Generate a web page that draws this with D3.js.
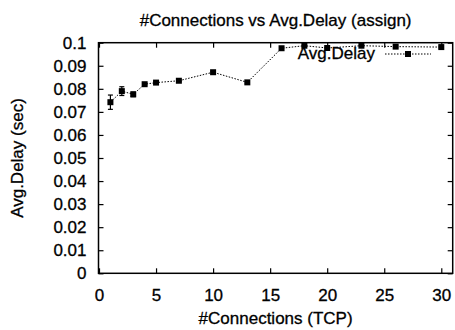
<!DOCTYPE html>
<html>
<head>
<meta charset="utf-8">
<script src="https://cdn.jsdelivr.net/npm/d3@7"></script>
<style>
  html, body { margin: 0; padding: 0; background: #fff; }
  svg { display: block; }
  text { font-family: "Liberation Sans", Arial, Helvetica, sans-serif; fill: #000; stroke: #000; stroke-width: 0.3px; }
</style>
</head>
<body>
<svg id="chart" width="455" height="330"></svg>
<script>
// Number of TCP connections and the measured average delay (seconds)
const connections = [1, 2, 3, 4, 5, 7, 10, 13, 16, 18, 20, 23, 26, 30];
const avgDelay = [0.0742, 0.0790, 0.0776, 0.0820, 0.0827, 0.0835, 0.0872, 0.0828, 0.0976, 0.0987, 0.0977, 0.0987, 0.0983, 0.0981];
const delayErr = [0.0031, 0.0019, 0.0010, 0.0005, 0.0004, 0.0003, 0.0004, 0.0004, 0.0003, 0.0003, 0.0003, 0.0004, 0.0003, 0.0006];
const xTicks = [0, 5, 10, 15, 20, 25, 30];
const yTicks = [0, 0.01, 0.02, 0.03, 0.04, 0.05, 0.06, 0.07, 0.08, 0.09, 0.1];
const seriesName = "Avg.Delay";

const svg = d3.select("#chart");
const L = 98.5, R = 452.7, T = 42.7, B = 273.3;

const x = d3.scaleLinear().domain([0, 31]).range([99, R]);
const y = d3.scaleLinear().domain([0, 0.1]).range([B, T]);

const font = "17px";
const tickLen = 5;

// Title
svg.append("text")
  .attr("x", (L + R) / 2).attr("y", 25.5)
  .attr("text-anchor", "middle").style("font-size", font)
  .text("#Connections vs Avg.Delay (assign)");

// Axis titles
svg.append("text")
  .attr("x", (L + R) / 2).attr("y", 324)
  .attr("text-anchor", "middle").style("font-size", font)
  .text("#Connections (TCP)");
svg.append("text")
  .attr("transform", `translate(23,${(T + B) / 2}) rotate(-90)`)
  .attr("text-anchor", "middle").style("font-size", font)
  .text("Avg.Delay (sec)");

// Bottom axis: labels plus inward ticks, mirrored on the top edge
const gx = svg.append("g").attr("transform", `translate(0,${B})`)
  .call(d3.axisBottom(x).tickValues(xTicks).tickFormat(d3.format("d")).tickSize(-tickLen).tickPadding(10));
gx.select(".domain").remove();
gx.selectAll("text").style("font-size", font).attr("font-family", null).attr("y", 16);
gx.selectAll("line").attr("stroke-width", 1.2);

const gxTop = svg.append("g").attr("transform", `translate(0,${T})`)
  .call(d3.axisTop(x).tickValues(xTicks).tickFormat("").tickSize(-tickLen));
gxTop.select(".domain").remove();
gxTop.selectAll("line").attr("stroke-width", 1.2);

// Left axis with labels, mirrored ticks on the right edge
const gy = svg.append("g").attr("transform", `translate(${L},0)`)
  .call(d3.axisLeft(y).tickValues(yTicks).tickFormat(d => d === 0 ? "0" : d3.format(".2~f")(d)).tickSize(-tickLen).tickPadding(12));
gy.select(".domain").remove();
gy.selectAll("text").style("font-size", font).attr("font-family", null);
gy.selectAll("line").attr("stroke-width", 1.2);

const gyRight = svg.append("g").attr("transform", `translate(${R},0)`)
  .call(d3.axisRight(y).tickValues(yTicks).tickFormat("").tickSize(-tickLen));
gyRight.select(".domain").remove();
gyRight.selectAll("line").attr("stroke-width", 1.2);

// Plot frame
svg.append("rect")
  .attr("x", L).attr("y", T).attr("width", R - L).attr("height", B - T)
  .attr("fill", "none").attr("stroke", "#000").attr("stroke-width", 1.5);

const data = connections.map((c, i) => ({ c, d: avgDelay[i], e: delayErr[i] }));

// Dotted connecting line
svg.append("path")
  .datum(data)
  .attr("fill", "none").attr("stroke", "#000").attr("stroke-width", 1)
  .attr("stroke-dasharray", "1.5,1.5")
  .attr("d", d3.line().x(p => x(p.c)).y(p => y(p.d)));

// Error bars
const eb = svg.append("g").attr("stroke", "#000").attr("stroke-width", 1.2);
data.forEach(p => {
  const cx = x(p.c), y0 = y(p.d - p.e), y1 = y(p.d + p.e);
  eb.append("line").attr("x1", cx).attr("x2", cx).attr("y1", y0).attr("y2", y1);
  eb.append("line").attr("x1", cx - 2.5).attr("x2", cx + 2.5).attr("y1", y0).attr("y2", y0);
  eb.append("line").attr("x1", cx - 2.5).attr("x2", cx + 2.5).attr("y1", y1).attr("y2", y1);
});

// Square markers
const ms = 6;
svg.append("g").selectAll("rect").data(data).join("rect")
  .attr("x", p => x(p.c) - ms / 2).attr("y", p => y(p.d) - ms / 2)
  .attr("width", ms).attr("height", ms).attr("fill", "#000");

// Legend
const lg = svg.append("g");
lg.append("text")
  .attr("x", 375).attr("y", 59)
  .attr("text-anchor", "end").style("font-size", font)
  .text(seriesName);
lg.append("line")
  .attr("x1", 385).attr("x2", 431).attr("y1", 54).attr("y2", 54)
  .attr("stroke", "#000").attr("stroke-width", 1).attr("stroke-dasharray", "1.5,1.5");
lg.append("rect")
  .attr("x", 408 - ms / 2).attr("y", 54 - ms / 2).attr("width", ms).attr("height", ms).attr("fill", "#000");
</script>
</body>
</html>
